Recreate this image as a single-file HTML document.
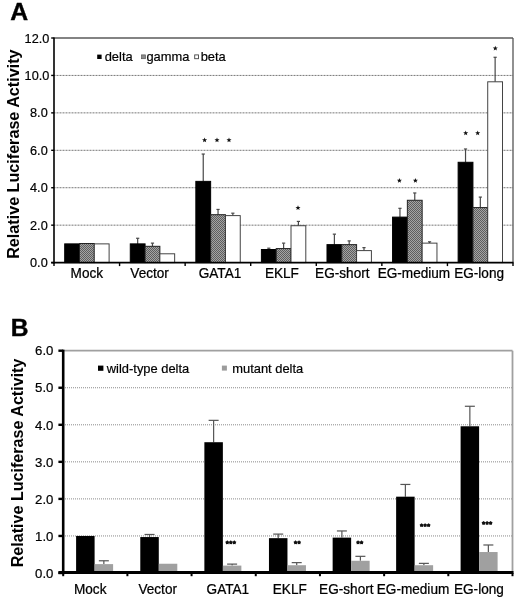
<!DOCTYPE html>
<html><head><meta charset="utf-8"><title>Figure</title>
<style>
html,body{margin:0;padding:0;background:#fff;}
body{width:520px;height:603px;overflow:hidden;font-family:"Liberation Sans",sans-serif;}
svg{display:block;filter:blur(0.35px)}
svg text{font-family:"Liberation Sans",sans-serif;}
</style></head><body>
<svg width="520" height="603" viewBox="0 0 520 603">
<defs>
<pattern id="hatch" width="2" height="2" patternUnits="userSpaceOnUse">
<rect width="2" height="2" fill="#a4a4a4"/>
<rect width="1" height="1" fill="#5e5e5e"/>
<rect x="1" y="1" width="1" height="1" fill="#5e5e5e"/>
</pattern>
</defs>
<rect width="520" height="603" fill="#fff"/>

<line x1="54.0" x2="513.0" y1="225.17" y2="225.17" stroke="#777" stroke-width="1" stroke-dasharray="1,0.5"/>
<line x1="54.0" x2="513.0" y1="187.73" y2="187.73" stroke="#777" stroke-width="1" stroke-dasharray="1,0.5"/>
<line x1="54.0" x2="513.0" y1="150.30" y2="150.30" stroke="#777" stroke-width="1" stroke-dasharray="1,0.5"/>
<line x1="54.0" x2="513.0" y1="112.87" y2="112.87" stroke="#777" stroke-width="1" stroke-dasharray="1,0.5"/>
<line x1="54.0" x2="513.0" y1="75.43" y2="75.43" stroke="#777" stroke-width="1" stroke-dasharray="1,0.5"/>
<line x1="54.0" x2="513.0" y1="38.0" y2="38.0" stroke="#5a5a5a" stroke-width="1.3"/>
<line x1="513.0" x2="513.0" y1="38.0" y2="262.6" stroke="#555" stroke-width="1.3"/>
<rect x="64.70" y="243.88" width="14.8" height="18.72" fill="#000" stroke="#000" stroke-width="1"/>
<rect x="79.50" y="243.51" width="14.8" height="19.09" fill="url(#hatch)" stroke="#222" stroke-width="1"/>
<rect x="94.30" y="243.88" width="14.8" height="18.72" fill="#fff" stroke="#3a3a3a" stroke-width="0.95"/>
<line x1="137.67" x2="137.67" y1="238.27" y2="243.88" stroke="#484848" stroke-width="1.2"/>
<line x1="136.07" x2="139.27" y1="238.27" y2="238.27" stroke="#484848" stroke-width="1.2"/>
<rect x="130.27" y="243.88" width="14.8" height="18.72" fill="#000" stroke="#000" stroke-width="1"/>
<line x1="152.47" x2="152.47" y1="243.13" y2="246.32" stroke="#484848" stroke-width="1.2"/>
<line x1="150.87" x2="154.07" y1="243.13" y2="243.13" stroke="#484848" stroke-width="1.2"/>
<rect x="145.07" y="246.32" width="14.8" height="16.28" fill="url(#hatch)" stroke="#222" stroke-width="1"/>
<rect x="159.87" y="253.80" width="14.8" height="8.80" fill="#fff" stroke="#3a3a3a" stroke-width="0.95"/>
<line x1="203.24" x2="203.24" y1="154.04" y2="181.37" stroke="#484848" stroke-width="1.2"/>
<line x1="201.64" x2="204.84" y1="154.04" y2="154.04" stroke="#484848" stroke-width="1.2"/>
<rect x="195.84" y="181.37" width="14.8" height="81.23" fill="#000" stroke="#000" stroke-width="1"/>
<line x1="218.04" x2="218.04" y1="209.44" y2="214.69" stroke="#484848" stroke-width="1.2"/>
<line x1="216.44" x2="219.64" y1="209.44" y2="209.44" stroke="#484848" stroke-width="1.2"/>
<rect x="210.64" y="214.69" width="14.8" height="47.91" fill="url(#hatch)" stroke="#222" stroke-width="1"/>
<line x1="232.84" x2="232.84" y1="213.19" y2="215.62" stroke="#484848" stroke-width="1.2"/>
<line x1="231.24" x2="234.44" y1="213.19" y2="213.19" stroke="#484848" stroke-width="1.2"/>
<rect x="225.44" y="215.62" width="14.8" height="46.98" fill="#fff" stroke="#3a3a3a" stroke-width="0.95"/>
<line x1="268.81" x2="268.81" y1="248.19" y2="249.50" stroke="#484848" stroke-width="1.2"/>
<line x1="267.21" x2="270.41" y1="248.19" y2="248.19" stroke="#484848" stroke-width="1.2"/>
<rect x="261.41" y="249.50" width="14.8" height="13.10" fill="#000" stroke="#000" stroke-width="1"/>
<line x1="283.61" x2="283.61" y1="243.13" y2="248.56" stroke="#484848" stroke-width="1.2"/>
<line x1="282.01" x2="285.21" y1="243.13" y2="243.13" stroke="#484848" stroke-width="1.2"/>
<rect x="276.21" y="248.56" width="14.8" height="14.04" fill="url(#hatch)" stroke="#222" stroke-width="1"/>
<line x1="298.41" x2="298.41" y1="221.42" y2="225.73" stroke="#484848" stroke-width="1.2"/>
<line x1="296.81" x2="300.01" y1="221.42" y2="221.42" stroke="#484848" stroke-width="1.2"/>
<rect x="291.01" y="225.73" width="14.8" height="36.87" fill="#fff" stroke="#3a3a3a" stroke-width="0.95"/>
<line x1="334.39" x2="334.39" y1="234.15" y2="244.63" stroke="#484848" stroke-width="1.2"/>
<line x1="332.79" x2="335.99" y1="234.15" y2="234.15" stroke="#484848" stroke-width="1.2"/>
<rect x="326.99" y="244.63" width="14.8" height="17.97" fill="#000" stroke="#000" stroke-width="1"/>
<line x1="349.19" x2="349.19" y1="240.89" y2="244.63" stroke="#484848" stroke-width="1.2"/>
<line x1="347.59" x2="350.79" y1="240.89" y2="240.89" stroke="#484848" stroke-width="1.2"/>
<rect x="341.79" y="244.63" width="14.8" height="17.97" fill="url(#hatch)" stroke="#222" stroke-width="1"/>
<line x1="363.99" x2="363.99" y1="247.63" y2="250.62" stroke="#484848" stroke-width="1.2"/>
<line x1="362.39" x2="365.59" y1="247.63" y2="247.63" stroke="#484848" stroke-width="1.2"/>
<rect x="356.59" y="250.62" width="14.8" height="11.98" fill="#fff" stroke="#3a3a3a" stroke-width="0.95"/>
<line x1="399.96" x2="399.96" y1="208.32" y2="217.12" stroke="#484848" stroke-width="1.2"/>
<line x1="398.36" x2="401.56" y1="208.32" y2="208.32" stroke="#484848" stroke-width="1.2"/>
<rect x="392.56" y="217.12" width="14.8" height="45.48" fill="#000" stroke="#000" stroke-width="1"/>
<line x1="414.76" x2="414.76" y1="192.97" y2="200.27" stroke="#484848" stroke-width="1.2"/>
<line x1="413.16" x2="416.36" y1="192.97" y2="192.97" stroke="#484848" stroke-width="1.2"/>
<rect x="407.36" y="200.27" width="14.8" height="62.33" fill="url(#hatch)" stroke="#222" stroke-width="1"/>
<line x1="429.56" x2="429.56" y1="241.82" y2="243.13" stroke="#484848" stroke-width="1.2"/>
<line x1="427.96" x2="431.16" y1="241.82" y2="241.82" stroke="#484848" stroke-width="1.2"/>
<rect x="422.16" y="243.13" width="14.8" height="19.47" fill="#fff" stroke="#3a3a3a" stroke-width="0.95"/>
<line x1="465.53" x2="465.53" y1="148.99" y2="162.28" stroke="#484848" stroke-width="1.2"/>
<line x1="463.93" x2="467.13" y1="148.99" y2="148.99" stroke="#484848" stroke-width="1.2"/>
<rect x="458.13" y="162.28" width="14.8" height="100.32" fill="#000" stroke="#000" stroke-width="1"/>
<line x1="480.33" x2="480.33" y1="197.09" y2="207.57" stroke="#484848" stroke-width="1.2"/>
<line x1="478.73" x2="481.93" y1="197.09" y2="197.09" stroke="#484848" stroke-width="1.2"/>
<rect x="472.93" y="207.57" width="14.8" height="55.03" fill="url(#hatch)" stroke="#222" stroke-width="1"/>
<line x1="495.13" x2="495.13" y1="57.28" y2="81.80" stroke="#484848" stroke-width="1.2"/>
<line x1="493.53" x2="496.73" y1="57.28" y2="57.28" stroke="#484848" stroke-width="1.2"/>
<rect x="487.73" y="81.80" width="14.8" height="180.80" fill="#fff" stroke="#3a3a3a" stroke-width="0.95"/>
<line x1="54.0" x2="54.0" y1="37.5" y2="263.6" stroke="#000" stroke-width="1.6"/>
<line x1="51.2" x2="513.5" y1="262.6" y2="262.6" stroke="#000" stroke-width="1.8"/>
<line x1="51.2" x2="54.0" y1="262.60" y2="262.60" stroke="#000" stroke-width="1.4"/>
<text x="47.7" y="267.10" text-anchor="end" font-size="12.7" stroke="#000" stroke-width="0.2"  fill="#000">0.0</text>
<line x1="51.2" x2="54.0" y1="225.17" y2="225.17" stroke="#000" stroke-width="1.4"/>
<text x="47.7" y="229.67" text-anchor="end" font-size="12.7" stroke="#000" stroke-width="0.2"  fill="#000">2.0</text>
<line x1="51.2" x2="54.0" y1="187.73" y2="187.73" stroke="#000" stroke-width="1.4"/>
<text x="47.7" y="192.23" text-anchor="end" font-size="12.7" stroke="#000" stroke-width="0.2"  fill="#000">4.0</text>
<line x1="51.2" x2="54.0" y1="150.30" y2="150.30" stroke="#000" stroke-width="1.4"/>
<text x="47.7" y="154.80" text-anchor="end" font-size="12.7" stroke="#000" stroke-width="0.2"  fill="#000">6.0</text>
<line x1="51.2" x2="54.0" y1="112.87" y2="112.87" stroke="#000" stroke-width="1.4"/>
<text x="47.7" y="117.37" text-anchor="end" font-size="12.7" stroke="#000" stroke-width="0.2"  fill="#000">8.0</text>
<line x1="51.2" x2="54.0" y1="75.43" y2="75.43" stroke="#000" stroke-width="1.4"/>
<text x="49.3" y="79.93" text-anchor="end" font-size="12.7" stroke="#000" stroke-width="0.2"  fill="#000">10.0</text>
<line x1="51.2" x2="54.0" y1="38.00" y2="38.00" stroke="#000" stroke-width="1.4"/>
<text x="49.3" y="42.50" text-anchor="end" font-size="12.7" stroke="#000" stroke-width="0.2"  fill="#000">12.0</text>
<line x1="54.00" x2="54.00" y1="262.6" y2="266.1" stroke="#000" stroke-width="1.4"/>
<line x1="119.57" x2="119.57" y1="262.6" y2="266.1" stroke="#000" stroke-width="1.4"/>
<line x1="185.14" x2="185.14" y1="262.6" y2="266.1" stroke="#000" stroke-width="1.4"/>
<line x1="250.71" x2="250.71" y1="262.6" y2="266.1" stroke="#000" stroke-width="1.4"/>
<line x1="316.29" x2="316.29" y1="262.6" y2="266.1" stroke="#000" stroke-width="1.4"/>
<line x1="381.86" x2="381.86" y1="262.6" y2="266.1" stroke="#000" stroke-width="1.4"/>
<line x1="447.43" x2="447.43" y1="262.6" y2="266.1" stroke="#000" stroke-width="1.4"/>
<line x1="513.00" x2="513.00" y1="262.6" y2="266.1" stroke="#000" stroke-width="1.4"/>
<text transform="translate(86.85,277.6) scale(0.965,1)" text-anchor="middle" font-size="14.1" stroke="#000" stroke-width="0.25" fill="#000">Mock</text>
<text transform="translate(149.60,277.6) scale(0.965,1)" text-anchor="middle" font-size="14.1" stroke="#000" stroke-width="0.25" fill="#000">Vector</text>
<text transform="translate(220.00,277.6) scale(0.965,1)" text-anchor="middle" font-size="14.1" stroke="#000" stroke-width="0.25" fill="#000">GATA1</text>
<text transform="translate(281.90,277.6) scale(0.965,1)" text-anchor="middle" font-size="14.1" stroke="#000" stroke-width="0.25" fill="#000">EKLF</text>
<text transform="translate(342.30,277.6) scale(0.965,1)" text-anchor="middle" font-size="14.1" stroke="#000" stroke-width="0.25" fill="#000">EG-short</text>
<text transform="translate(413.90,277.6) scale(0.965,1)" text-anchor="middle" font-size="14.1" stroke="#000" stroke-width="0.25" fill="#000">EG-medium</text>
<text transform="translate(479.10,277.6) scale(0.965,1)" text-anchor="middle" font-size="14.1" stroke="#000" stroke-width="0.25" fill="#000">EG-long</text>
<polygon points="204.60,137.50 205.28,139.22 207.12,139.33 205.69,140.51 206.16,142.29 204.60,141.30 203.04,142.29 203.51,140.51 202.08,139.33 203.92,139.22" fill="#111"/>
<polygon points="217.00,137.50 217.68,139.22 219.52,139.33 218.09,140.51 218.56,142.29 217.00,141.30 215.44,142.29 215.91,140.51 214.48,139.33 216.32,139.22" fill="#111"/>
<polygon points="229.00,137.50 229.68,139.22 231.52,139.33 230.09,140.51 230.56,142.29 229.00,141.30 227.44,142.29 227.91,140.51 226.48,139.33 228.32,139.22" fill="#111"/>
<polygon points="298.00,205.30 298.68,207.02 300.52,207.13 299.09,208.31 299.56,210.09 298.00,209.10 296.44,210.09 296.91,208.31 295.48,207.13 297.32,207.02" fill="#111"/>
<polygon points="399.40,178.00 400.08,179.72 401.92,179.83 400.49,181.01 400.96,182.79 399.40,181.80 397.84,182.79 398.31,181.01 396.88,179.83 398.72,179.72" fill="#111"/>
<polygon points="415.40,178.00 416.08,179.72 417.92,179.83 416.49,181.01 416.96,182.79 415.40,181.80 413.84,182.79 414.31,181.01 412.88,179.83 414.72,179.72" fill="#111"/>
<polygon points="465.70,130.50 466.38,132.22 468.22,132.33 466.79,133.51 467.26,135.29 465.70,134.30 464.14,135.29 464.61,133.51 463.18,132.33 465.02,132.22" fill="#111"/>
<polygon points="477.70,130.50 478.38,132.22 480.22,132.33 478.79,133.51 479.26,135.29 477.70,134.30 476.14,135.29 476.61,133.51 475.18,132.33 477.02,132.22" fill="#111"/>
<polygon points="495.30,45.70 495.98,47.42 497.82,47.53 496.39,48.71 496.86,50.49 495.30,49.50 493.74,50.49 494.21,48.71 492.78,47.53 494.62,47.42" fill="#111"/>
<rect x="97.2" y="54.6" width="4.4" height="4.4" fill="#000"/>
<text x="104.7" y="60.7" font-size="12.9" stroke="#000" stroke-width="0.2" >delta</text>
<rect x="141.6" y="54.9" width="3.8" height="3.8" fill="#8c8c8c" stroke="#555" stroke-width="0.7"/>
<text x="146.4" y="60.7" font-size="12.9" stroke="#000" stroke-width="0.2" >gamma</text>
<rect x="194.7" y="54.9" width="3.8" height="3.8" fill="#fff" stroke="#444" stroke-width="0.9"/>
<text x="200.7" y="60.7" font-size="12.9" stroke="#000" stroke-width="0.2" >beta</text>
<text transform="translate(18.5,258.8) rotate(-90)" font-size="16.15" font-weight="bold" >Relative Luciferase Activity</text>
<text x="10.2" y="19.8" font-size="24.8" font-weight="bold" stroke="#000" stroke-width="0.4" >A</text>
<line x1="65" x2="512.5" y1="535.95" y2="535.95" stroke="#8a8a8a" stroke-width="1" stroke-dasharray="1,1"/>
<line x1="65" x2="512.5" y1="498.90" y2="498.90" stroke="#8a8a8a" stroke-width="1" stroke-dasharray="1,1"/>
<line x1="65" x2="512.5" y1="461.85" y2="461.85" stroke="#8a8a8a" stroke-width="1" stroke-dasharray="1,1"/>
<line x1="65" x2="512.5" y1="424.80" y2="424.80" stroke="#8a8a8a" stroke-width="1" stroke-dasharray="1,1"/>
<line x1="65" x2="512.5" y1="387.75" y2="387.75" stroke="#8a8a8a" stroke-width="1" stroke-dasharray="1,1"/>
<line x1="63.2" x2="512.5" y1="350.7" y2="350.7" stroke="#a0a0a0" stroke-width="1.8"/>
<line x1="512.5" x2="512.5" y1="350.7" y2="573.0" stroke="#a0a0a0" stroke-width="1.8"/>
<rect x="76.10" y="535.95" width="18.5" height="37.05" fill="#000"/>
<line x1="103.85" x2="103.85" y1="560.77" y2="564.11" stroke="#555" stroke-width="1.2"/>
<line x1="98.85" x2="108.85" y1="560.77" y2="560.77" stroke="#555" stroke-width="1.2"/>
<rect x="94.60" y="564.11" width="18.5" height="8.89" fill="#a0a0a0"/>
<line x1="149.54" x2="149.54" y1="534.47" y2="537.06" stroke="#555" stroke-width="1.2"/>
<line x1="144.54" x2="154.54" y1="534.47" y2="534.47" stroke="#555" stroke-width="1.2"/>
<rect x="140.29" y="537.06" width="18.5" height="35.94" fill="#000"/>
<rect x="158.79" y="563.74" width="18.5" height="9.26" fill="#a0a0a0"/>
<line x1="213.62" x2="213.62" y1="420.35" y2="442.21" stroke="#555" stroke-width="1.2"/>
<line x1="208.62" x2="218.62" y1="420.35" y2="420.35" stroke="#555" stroke-width="1.2"/>
<rect x="204.37" y="442.21" width="18.5" height="130.79" fill="#000"/>
<line x1="232.12" x2="232.12" y1="564.11" y2="565.59" stroke="#555" stroke-width="1.2"/>
<line x1="227.12" x2="237.12" y1="564.11" y2="564.11" stroke="#555" stroke-width="1.2"/>
<rect x="222.87" y="565.59" width="18.5" height="7.41" fill="#a0a0a0"/>
<line x1="278.21" x2="278.21" y1="534.10" y2="538.17" stroke="#555" stroke-width="1.2"/>
<line x1="273.21" x2="283.21" y1="534.10" y2="534.10" stroke="#555" stroke-width="1.2"/>
<rect x="268.96" y="538.17" width="18.5" height="34.83" fill="#000"/>
<line x1="296.71" x2="296.71" y1="562.63" y2="565.22" stroke="#555" stroke-width="1.2"/>
<line x1="291.71" x2="301.71" y1="562.63" y2="562.63" stroke="#555" stroke-width="1.2"/>
<rect x="287.46" y="565.22" width="18.5" height="7.78" fill="#a0a0a0"/>
<line x1="341.89" x2="341.89" y1="530.95" y2="537.62" stroke="#555" stroke-width="1.2"/>
<line x1="336.89" x2="346.89" y1="530.95" y2="530.95" stroke="#555" stroke-width="1.2"/>
<rect x="332.64" y="537.62" width="18.5" height="35.38" fill="#000"/>
<line x1="360.39" x2="360.39" y1="556.33" y2="560.77" stroke="#555" stroke-width="1.2"/>
<line x1="355.39" x2="365.39" y1="556.33" y2="556.33" stroke="#555" stroke-width="1.2"/>
<rect x="351.14" y="560.77" width="18.5" height="12.23" fill="#a0a0a0"/>
<line x1="405.38" x2="405.38" y1="484.45" y2="496.68" stroke="#555" stroke-width="1.2"/>
<line x1="400.38" x2="410.38" y1="484.45" y2="484.45" stroke="#555" stroke-width="1.2"/>
<rect x="396.13" y="496.68" width="18.5" height="76.32" fill="#000"/>
<line x1="423.88" x2="423.88" y1="563.37" y2="565.22" stroke="#555" stroke-width="1.2"/>
<line x1="418.88" x2="428.88" y1="563.37" y2="563.37" stroke="#555" stroke-width="1.2"/>
<rect x="414.63" y="565.22" width="18.5" height="7.78" fill="#a0a0a0"/>
<line x1="469.86" x2="469.86" y1="406.27" y2="426.28" stroke="#555" stroke-width="1.2"/>
<line x1="464.86" x2="474.86" y1="406.27" y2="406.27" stroke="#555" stroke-width="1.2"/>
<rect x="460.61" y="426.28" width="18.5" height="146.72" fill="#000"/>
<line x1="488.36" x2="488.36" y1="544.99" y2="552.03" stroke="#555" stroke-width="1.2"/>
<line x1="483.36" x2="493.36" y1="544.99" y2="544.99" stroke="#555" stroke-width="1.2"/>
<rect x="479.11" y="552.03" width="18.5" height="20.97" fill="#a0a0a0"/>
<line x1="63.2" x2="63.2" y1="349.7" y2="574.2" stroke="#000" stroke-width="2.6"/>
<line x1="58.400000000000006" x2="513.5" y1="572.5" y2="572.5" stroke="#000" stroke-width="2.9"/>
<line x1="58.400000000000006" x2="63.2" y1="573.00" y2="573.00" stroke="#000" stroke-width="2.4"/>
<text x="53.400000000000006" y="577.70" text-anchor="end" font-size="13.2" stroke="#000" stroke-width="0.2"  fill="#000">0.0</text>
<line x1="58.400000000000006" x2="63.2" y1="535.95" y2="535.95" stroke="#000" stroke-width="2.4"/>
<text x="53.400000000000006" y="540.65" text-anchor="end" font-size="13.2" stroke="#000" stroke-width="0.2"  fill="#000">1.0</text>
<line x1="58.400000000000006" x2="63.2" y1="498.90" y2="498.90" stroke="#000" stroke-width="2.4"/>
<text x="53.400000000000006" y="503.60" text-anchor="end" font-size="13.2" stroke="#000" stroke-width="0.2"  fill="#000">2.0</text>
<line x1="58.400000000000006" x2="63.2" y1="461.85" y2="461.85" stroke="#000" stroke-width="2.4"/>
<text x="53.400000000000006" y="466.55" text-anchor="end" font-size="13.2" stroke="#000" stroke-width="0.2"  fill="#000">3.0</text>
<line x1="58.400000000000006" x2="63.2" y1="424.80" y2="424.80" stroke="#000" stroke-width="2.4"/>
<text x="53.400000000000006" y="429.50" text-anchor="end" font-size="13.2" stroke="#000" stroke-width="0.2"  fill="#000">4.0</text>
<line x1="58.400000000000006" x2="63.2" y1="387.75" y2="387.75" stroke="#000" stroke-width="2.4"/>
<text x="53.400000000000006" y="392.45" text-anchor="end" font-size="13.2" stroke="#000" stroke-width="0.2"  fill="#000">5.0</text>
<line x1="58.400000000000006" x2="63.2" y1="350.70" y2="350.70" stroke="#000" stroke-width="2.4"/>
<text x="53.400000000000006" y="355.40" text-anchor="end" font-size="13.2" stroke="#000" stroke-width="0.2"  fill="#000">6.0</text>
<line x1="63.20" x2="63.20" y1="573.0" y2="576.2" stroke="#000" stroke-width="2"/>
<line x1="127.39" x2="127.39" y1="573.0" y2="576.2" stroke="#000" stroke-width="2"/>
<line x1="191.57" x2="191.57" y1="573.0" y2="576.2" stroke="#000" stroke-width="2"/>
<line x1="255.76" x2="255.76" y1="573.0" y2="576.2" stroke="#000" stroke-width="2"/>
<line x1="319.94" x2="319.94" y1="573.0" y2="576.2" stroke="#000" stroke-width="2"/>
<line x1="384.13" x2="384.13" y1="573.0" y2="576.2" stroke="#000" stroke-width="2"/>
<line x1="448.31" x2="448.31" y1="573.0" y2="576.2" stroke="#000" stroke-width="2"/>
<line x1="512.50" x2="512.50" y1="573.0" y2="576.2" stroke="#000" stroke-width="2"/>
<text transform="translate(90.20,594) scale(0.965,1)" text-anchor="middle" font-size="14.1" stroke="#000" stroke-width="0.25" fill="#000">Mock</text>
<text transform="translate(157.70,594) scale(0.965,1)" text-anchor="middle" font-size="14.1" stroke="#000" stroke-width="0.25" fill="#000">Vector</text>
<text transform="translate(227.90,594) scale(0.965,1)" text-anchor="middle" font-size="14.1" stroke="#000" stroke-width="0.25" fill="#000">GATA1</text>
<text transform="translate(289.80,594) scale(0.965,1)" text-anchor="middle" font-size="14.1" stroke="#000" stroke-width="0.25" fill="#000">EKLF</text>
<text transform="translate(346.30,594) scale(0.965,1)" text-anchor="middle" font-size="14.1" stroke="#000" stroke-width="0.25" fill="#000">EG-short</text>
<text transform="translate(413.00,594) scale(0.965,1)" text-anchor="middle" font-size="14.1" stroke="#000" stroke-width="0.25" fill="#000">EG-medium</text>
<text transform="translate(478.90,594) scale(0.965,1)" text-anchor="middle" font-size="14.1" stroke="#000" stroke-width="0.25" fill="#000">EG-long</text>
<polygon points="227.30,540.25 228.21,541.15 229.34,541.74 228.77,542.88 228.56,544.14 227.30,543.95 226.04,544.14 225.83,542.88 225.26,541.74 226.39,541.15" fill="#111"/>
<polygon points="230.80,540.25 231.71,541.15 232.84,541.74 232.27,542.88 232.06,544.14 230.80,543.95 229.54,544.14 229.33,542.88 228.76,541.74 229.89,541.15" fill="#111"/>
<polygon points="234.30,540.25 235.21,541.15 236.34,541.74 235.77,542.88 235.56,544.14 234.30,543.95 233.04,544.14 232.83,542.88 232.26,541.74 233.39,541.15" fill="#111"/>
<polygon points="295.55,540.25 296.46,541.15 297.59,541.74 297.02,542.88 296.81,544.14 295.55,543.95 294.29,544.14 294.08,542.88 293.51,541.74 294.64,541.15" fill="#111"/>
<polygon points="299.05,540.25 299.96,541.15 301.09,541.74 300.52,542.88 300.31,544.14 299.05,543.95 297.79,544.14 297.58,542.88 297.01,541.74 298.14,541.15" fill="#111"/>
<polygon points="358.05,540.25 358.96,541.15 360.09,541.74 359.52,542.88 359.31,544.14 358.05,543.95 356.79,544.14 356.58,542.88 356.01,541.74 357.14,541.15" fill="#111"/>
<polygon points="361.55,540.25 362.46,541.15 363.59,541.74 363.02,542.88 362.81,544.14 361.55,543.95 360.29,544.14 360.08,542.88 359.51,541.74 360.64,541.15" fill="#111"/>
<polygon points="421.60,523.15 422.51,524.05 423.64,524.64 423.07,525.78 422.86,527.04 421.60,526.85 420.34,527.04 420.13,525.78 419.56,524.64 420.69,524.05" fill="#111"/>
<polygon points="425.10,523.15 426.01,524.05 427.14,524.64 426.57,525.78 426.36,527.04 425.10,526.85 423.84,527.04 423.63,525.78 423.06,524.64 424.19,524.05" fill="#111"/>
<polygon points="428.60,523.15 429.51,524.05 430.64,524.64 430.07,525.78 429.86,527.04 428.60,526.85 427.34,527.04 427.13,525.78 426.56,524.64 427.69,524.05" fill="#111"/>
<polygon points="483.60,520.95 484.51,521.85 485.64,522.44 485.07,523.58 484.86,524.84 483.60,524.65 482.34,524.84 482.13,523.58 481.56,522.44 482.69,521.85" fill="#111"/>
<polygon points="487.10,520.95 488.01,521.85 489.14,522.44 488.57,523.58 488.36,524.84 487.10,524.65 485.84,524.84 485.63,523.58 485.06,522.44 486.19,521.85" fill="#111"/>
<polygon points="490.60,520.95 491.51,521.85 492.64,522.44 492.07,523.58 491.86,524.84 490.60,524.65 489.34,524.84 489.13,523.58 488.56,522.44 489.69,521.85" fill="#111"/>
<rect x="98.0" y="365.6" width="5.4" height="5.2" fill="#000"/>
<text x="106.8" y="373" font-size="12.9" stroke="#000" stroke-width="0.2" >wild-type delta</text>
<rect x="221.9" y="365.6" width="5" height="5" fill="#9c9c9c"/>
<text x="232.3" y="373" font-size="12.9" stroke="#000" stroke-width="0.2" >mutant delta</text>
<text transform="translate(23.0,567.3) rotate(-90)" font-size="16.1" font-weight="bold" >Relative Luciferase Activity</text>
<text x="10.7" y="335.6" font-size="24.6" font-weight="bold" stroke="#000" stroke-width="0.4" >B</text>
</svg>
</body></html>
